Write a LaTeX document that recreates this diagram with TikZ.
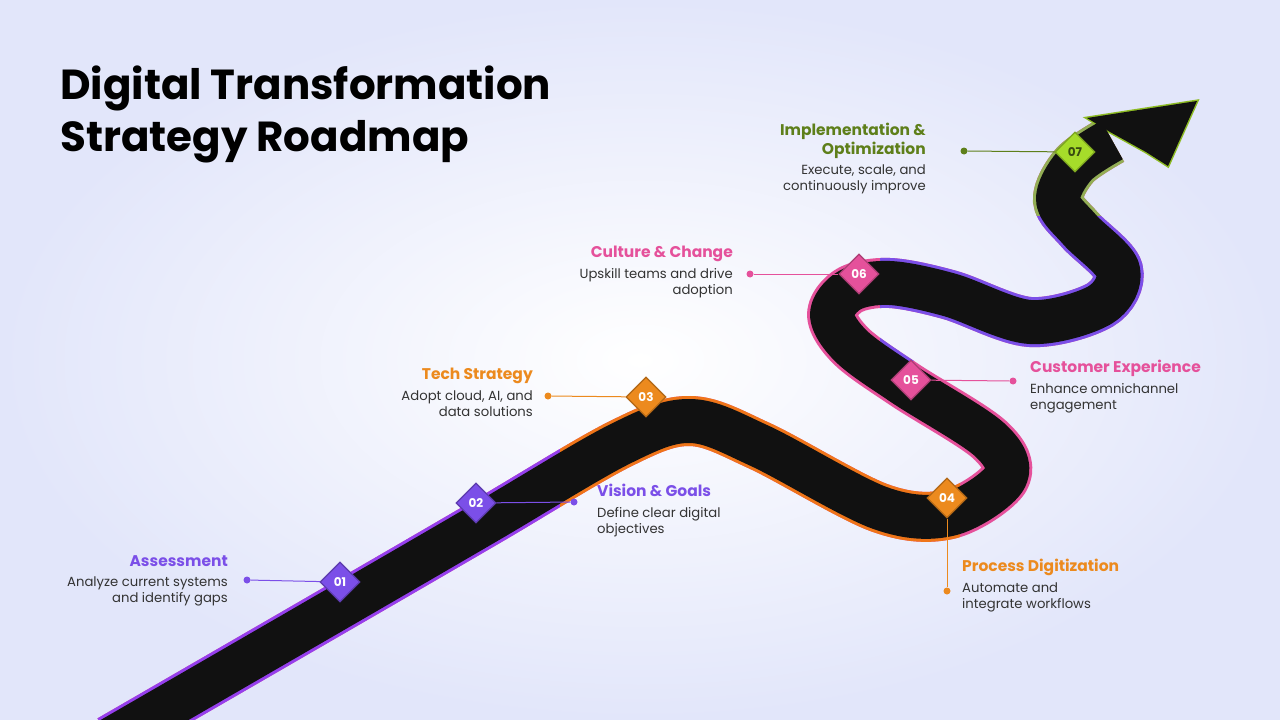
\documentclass[tikz,border=0pt]{standalone}
\usepackage{fontspec}
\setmainfont{Poppins}
\usetikzlibrary{shapes.geometric}
\definecolor{cpurple}{HTML}{7B4FE8}
\definecolor{corange}{HTML}{EC8A1E}
\definecolor{cpink}{HTML}{E5519B}
\definecolor{cgreen}{HTML}{A6DC2A}
\definecolor{cdgreen}{HTML}{5E7F1A}
\definecolor{road}{HTML}{111111}
\definecolor{bgc}{HTML}{E2E6FA}
\definecolor{txt}{HTML}{333333}
\begin{document}
\begin{tikzpicture}[x=1pt,y=-1pt,
  mk/.style={diamond,fill=#1,draw=#1!75!black,line width=1.2pt,minimum size=40pt,inner sep=0pt,text=white,font=\fontsize{12}{12}\selectfont\bfseries},
  hd/.style={text=#1,font=\fontsize{15.5}{18}\selectfont\bfseries,inner sep=0pt},
  ds/.style={text=txt,font=\fontsize{13.2}{16}\selectfont,inner sep=0pt},
  dot/.style={circle,fill=#1,inner sep=0pt,minimum size=7pt},
  ln/.style={draw=#1,line width=1pt}]
\shade[inner color=white,outer color=bgc] (0,0) rectangle (1280,720);
\useasboundingbox (0,0) rectangle (1280,720);
\node[anchor=north west,align=left,inner sep=0pt,font=\fontsize{42}{52}\selectfont\bfseries,text=black] (title) at (60,66) {Digital Transformation\\Strategy Roadmap};
\def\roadpath{plot[smooth,tension=0.55] coordinates {(110,740) (352,600) (488,521) (620,444) (690,421) (760,446) (880,508) (950,514) (1005,478) (990,440) (905,385) (852,347) (832,315) (850,290) (890,283) (950,295) (1030,322) (1100,305) (1118,270) (1080,230) (1058,200) (1075,165) (1112,140)}}
% outline
\draw[cpink,line width=50pt,line cap=butt,line join=round] \roadpath;
\begin{scope}\clip (0,400) -- (560,400) -- (560,720) -- (0,720) -- cycle;
\draw[cpurple!80!magenta,line width=50pt,line cap=butt] \roadpath;\end{scope}
\begin{scope}\clip (560,380) -- (740,380) -- (960,480) -- (960,560) -- (560,560) -- cycle;
\draw[corange!85!red,line width=50pt] \roadpath;\end{scope}
\begin{scope}\clip (880,215) -- (1200,215) -- (1200,360) -- (880,360) -- cycle;
\draw[cpurple,line width=50pt] \roadpath;\end{scope}
\begin{scope}\clip (1000,100) -- (1200,100) -- (1200,215) -- (1000,215) -- cycle;
\draw[cgreen!50!gray,line width=50pt] \roadpath;\end{scope}
\draw[cgreen!85!black,line width=3pt,line join=miter] (1197,101) -- (1087,118) -- (1110,132) -- (1128,142) -- (1146,152) -- (1168,166) -- cycle;
\draw[road,line width=44pt,line cap=butt,line join=round] \roadpath;
\fill[road] (1197,101) -- (1087,118) -- (1110,132) -- (1128,142) -- (1146,152) -- (1168,166) -- cycle;
% markers and labels
\node[mk=cpurple] (m1) at (340,582) {01};
\node[dot=cpurple] (d1) at (247,580) {};
\draw[ln=cpurple] (d1) -- (m1);
\node[hd=cpurple,anchor=base east] (h1) at (228,566) {Assessment};
\node[ds,anchor=north east,align=right] (t1) at (228,577) {Analyze current systems\\and identify gaps};

\node[mk=cpurple] (m2) at (476,503) {02};
\node[dot=cpurple] (d2) at (574,502) {};
\draw[ln=cpurple] (m2) -- (d2);
\node[hd=cpurple,anchor=base west] (h2) at (597,496) {Vision \& Goals};
\node[ds,anchor=north west,align=left] (t2) at (597,507) {Define clear digital\\objectives};

\node[mk=corange] (m3) at (646,397) {03};
\node[dot=corange] (d3) at (548,396) {};
\draw[ln=corange] (d3) -- (m3);
\node[hd=corange,anchor=base east] (h3) at (533,379) {Tech Strategy};
\node[ds,anchor=north east,align=right] (t3) at (533,391) {Adopt cloud, AI, and\\data solutions};

\node[mk=corange] (m4) at (947,498) {04};
\node[dot=corange] (d4) at (947,591) {};
\draw[ln=corange] (m4) -- (d4);
\node[hd=corange,anchor=base west] (h4) at (962,571) {Process Digitization};
\node[ds,anchor=north west,align=left] (t4) at (962,583) {Automate and\\integrate workflows};

\node[mk=cpink] (m5) at (911,380) {05};
\node[dot=cpink] (d5) at (1013,381) {};
\draw[ln=cpink] (m5) -- (d5);
\node[hd=cpink,anchor=base west] (h5) at (1030,372) {Customer Experience};
\node[ds,anchor=north west,align=left] (t5) at (1030,383) {Enhance omnichannel\\engagement};

\node[mk=cpink] (m6) at (859,274) {06};
\node[dot=cpink] (d6) at (750,274) {};
\draw[ln=cpink] (d6) -- (m6);
\node[hd=cpink,anchor=base east] (h6) at (733,257) {Culture \& Change};
\node[ds,anchor=north east,align=right] (t6) at (733,268) {Upskill teams and drive\\adoption};

\node[mk=cgreen,text=cdgreen!60!black] (m7) at (1075,152) {07};
\node[dot=cdgreen] (d7) at (964,151) {};
\draw[ln=cdgreen] (d7) -- (m7);
\node[hd=cdgreen,anchor=base east] (h7) at (926,135) {Implementation \&};
\node[hd=cdgreen,anchor=base east] (h7b) at (926,154) {Optimization};
\node[ds,anchor=north east,align=right] (t7) at (926,165) {Execute, scale, and\\continuously improve};
\end{tikzpicture}
\end{document}
